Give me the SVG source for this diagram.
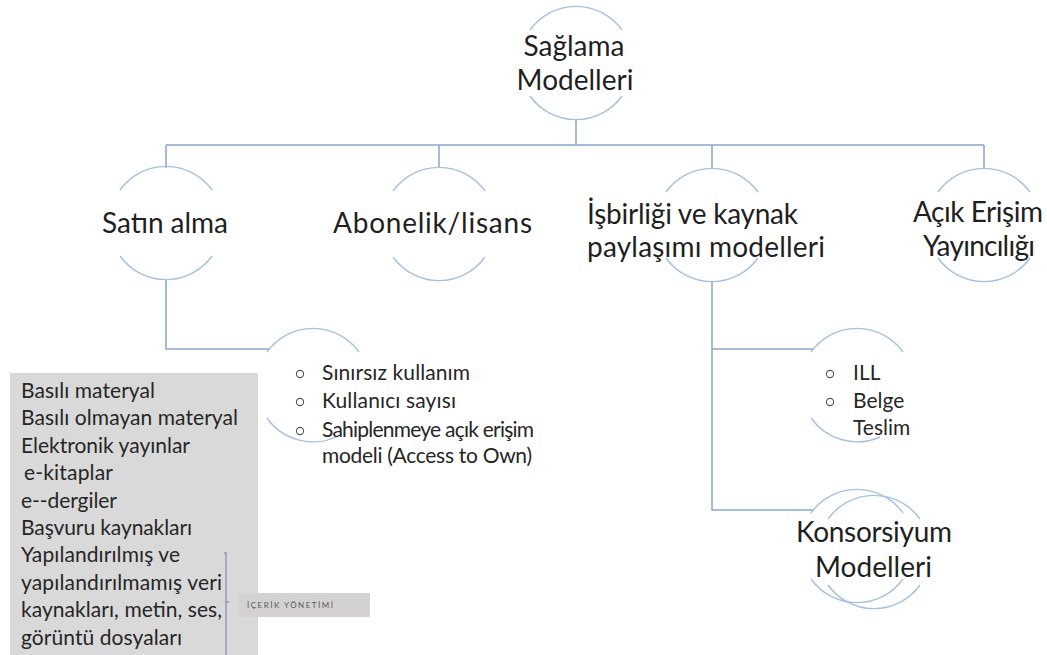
<svg xmlns="http://www.w3.org/2000/svg" width="1047" height="655" viewBox="0 0 1047 655">
<style>
.arc{fill:none;stroke:#a5c1de;stroke-width:1.4}
.con{fill:none;stroke:#86a6ce;stroke-width:1.5}
.lbl{font-family:Lato,"Open Sans",sans-serif;font-size:28px;fill:#1f1f1f}
.mid{text-anchor:middle}
.bul{font-family:Lato,"Open Sans",sans-serif;font-size:21px;fill:#262626}
.box{font-family:Lato,"Open Sans",sans-serif;font-size:21px;fill:#262626}
.dot{fill:none;stroke:#555;stroke-width:1.1}
</style>
<rect width="1047" height="655" fill="#ffffff"/>
<g id="connectors">
<path class="con" d="M576,120 V145 M166,145 H984 M166,145 V168 M439,145 V168 M712,145 V168 M984,145 V168"/>
<path class="con" d="M166,279 V349 H269"/>
<path class="con" d="M712,281 V510 H813 M712,349 H813"/>
</g>
<g id="node-saglama">
<path class="arc" d="M530,30 A56.6,56.6 0 0 1 622,30 M530,96 A56.6,56.6 0 0 0 622,96"/>
<text class="lbl mid" x="574" y="56">Sağlama</text>
<text class="lbl mid" x="575" y="90">Modelleri</text>
</g>
<g id="node-satin">
<path class="arc" d="M120,190 A56.6,56.6 0 0 1 212,190 M120,256 A56.6,56.6 0 0 0 212,256"/>
<text class="lbl mid" x="165" y="233" textLength="126">Satın alma</text>
</g>
<g id="node-abonelik">
<path class="arc" d="M393,191 A56.6,56.6 0 0 1 485,191 M393,257 A56.6,56.6 0 0 0 485,257"/>
<text class="lbl mid" x="432.5" y="233" textLength="199">Abonelik/lisans</text>
</g>
<g id="node-isbirligi">
<path class="arc" d="M666,192 A56.6,56.6 0 0 1 758,192 M666,258 A56.6,56.6 0 0 0 758,258"/>
<text class="lbl" x="587" y="224" textLength="211">İşbirliği ve kaynak</text>
<text class="lbl" x="587" y="257" textLength="238">paylaşımı modelleri</text>
</g>
<g id="node-acik">
<path class="arc" d="M938,192 A56.6,56.6 0 0 1 1030,192 M938,258 A56.6,56.6 0 0 0 1030,258"/>
<text class="lbl mid" x="978" y="222" textLength="130">Açık Erişim</text>
<text class="lbl mid" x="979" y="256" textLength="112">Yayıncılığı</text>
</g>
<g id="node-satin-sub">
<path class="arc" d="M267,352 A56.6,56.6 0 0 1 359,352 M267,418 A56.6,56.6 0 0 0 340,435"/>
<circle class="dot" cx="300" cy="374" r="3.6"/>
<circle class="dot" cx="300" cy="402" r="3.6"/>
<circle class="dot" cx="300" cy="431" r="3.6"/>
<text class="bul" x="322" y="380" textLength="148">Sınırsız kullanım</text>
<text class="bul" x="322" y="408" textLength="134">Kullanıcı sayısı</text>
<text class="bul" x="322" y="437" textLength="212">Sahiplenmeye açık erişim</text>
<text class="bul" x="322" y="463" textLength="210">modeli (Access to Own)</text>
</g>
<g id="node-ill">
<path class="arc" d="M811,352 A56.6,56.6 0 0 1 903,352 M811,418 A56.6,56.6 0 0 0 880,437"/>
<circle class="dot" cx="830" cy="374" r="3.6"/>
<circle class="dot" cx="830" cy="402" r="3.6"/>
<text class="bul" x="853" y="380">ILL</text>
<text class="bul" x="853" y="408">Belge</text>
<text class="bul" x="853" y="435">Teslim</text>
</g>
<g id="node-konsorsiyum">
<path class="arc" d="M811,513 A56.6,56.6 0 0 1 903,513 M811,579 A56.6,56.6 0 0 0 903,579"/>
<path class="arc" d="M828,519 A56.6,56.6 0 0 1 920,519 M828,585 A56.6,56.6 0 0 0 920,585"/>
<text class="lbl mid" x="874" y="542" textLength="156">Konsorsiyum</text>
<text class="lbl mid" x="873.5" y="577" textLength="117">Modelleri</text>
</g>
<g id="content-box">
<rect x="10" y="373" width="248" height="282" fill="#d9d9d9"/>
<text class="box" x="21" y="398" textLength="134">Basılı materyal</text>
<text class="box" x="21" y="425" textLength="217">Basılı olmayan materyal</text>
<text class="box" x="21" y="453" textLength="169">Elektronik yayınlar</text>
<text class="box" x="24" y="480" textLength="89">e-kitaplar</text>
<text class="box" x="21" y="508" textLength="96">e--dergiler</text>
<text class="box" x="21" y="535" textLength="171">Başvuru kaynakları</text>
<text class="box" x="21" y="562" textLength="159">Yapılandırılmış ve</text>
<text class="box" x="21" y="590" textLength="201">yapılandırılmamış veri</text>
<text class="box" x="21" y="617" textLength="201">kaynakları, metin, ses,</text>
<text class="box" x="21" y="645" textLength="161">görüntü dosyaları</text>
</g>
<g id="icerik">
<path d="M226,553 V655 M224,553 H227 M226,602 H229" fill="none" stroke="#8c9ab0" stroke-width="1.5"/>
<rect x="239" y="593" width="131" height="24" fill="#d3d1d1"/>
<text x="247" y="608" font-family="Lato,'Open Sans',sans-serif" font-size="8" fill="#595959" textLength="86">İÇERİK YÖNETİMİ</text>
</g>
</svg>
